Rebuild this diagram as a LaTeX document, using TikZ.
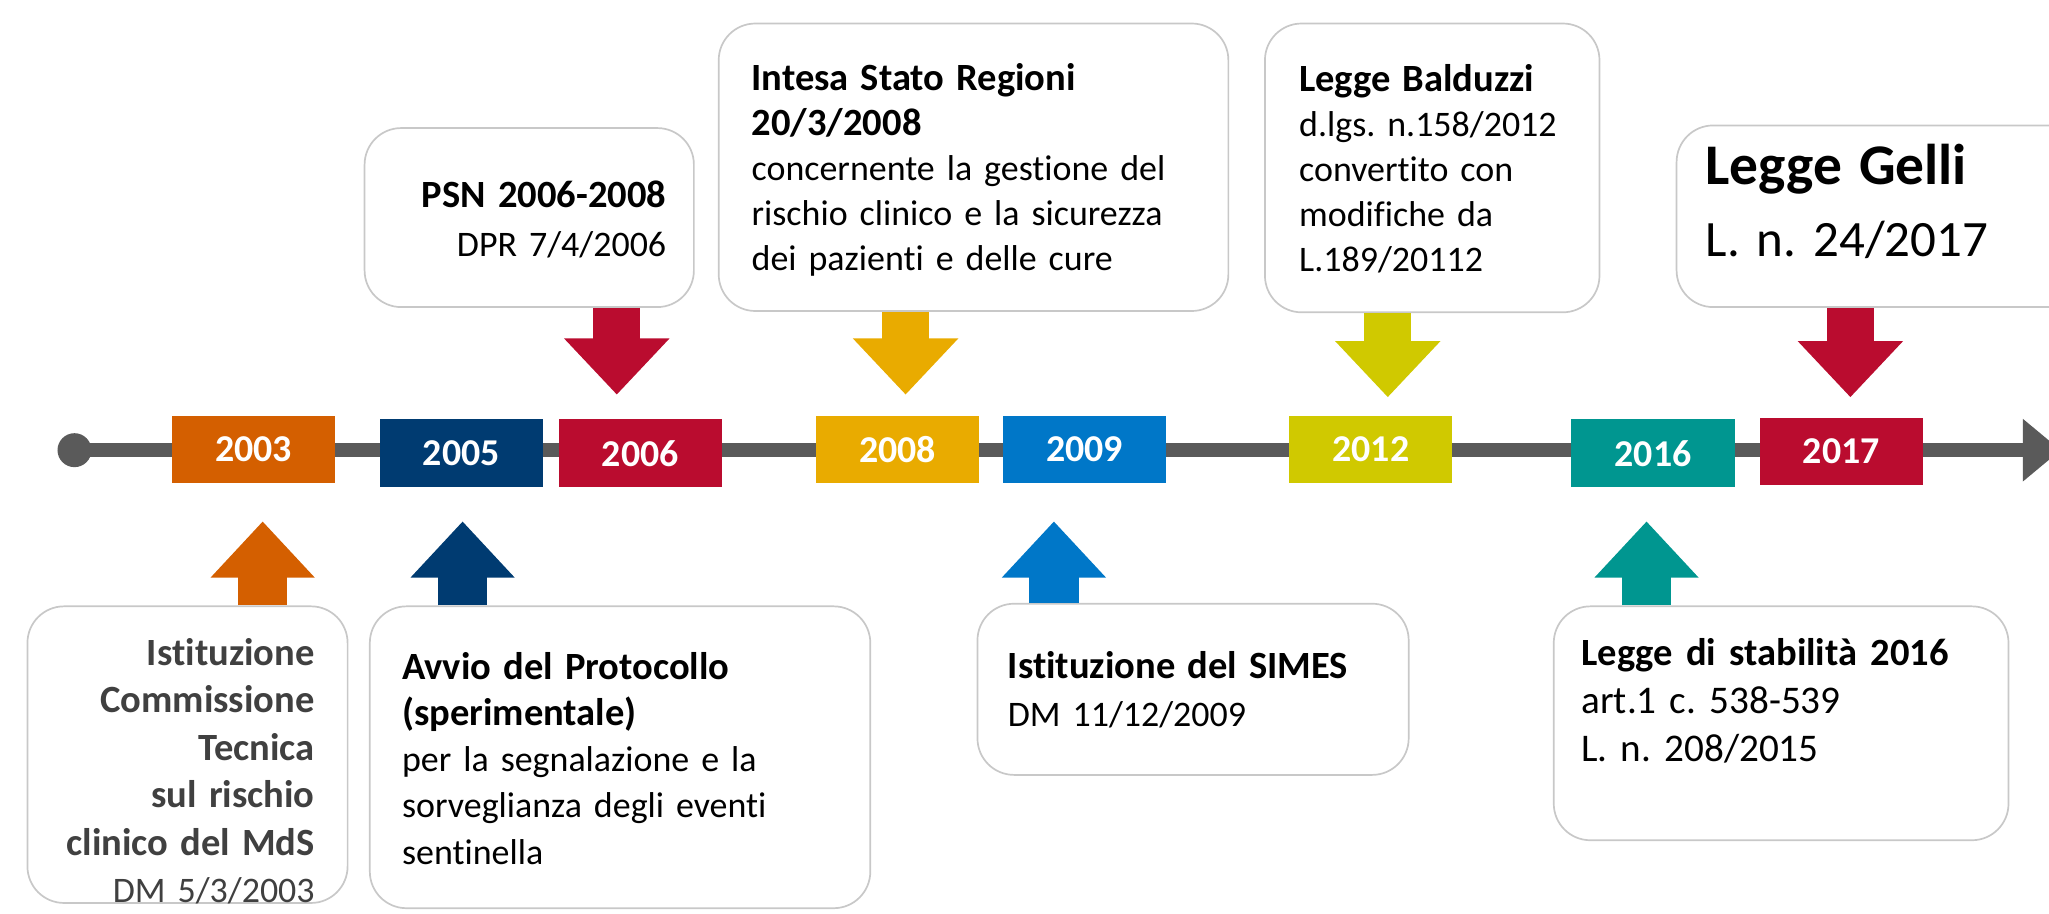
\documentclass[tikz,border=0pt]{standalone}
\usepackage{fontspec}
\setmainfont{Carlito}[Ligatures=NoCommon]
\usepackage{tikz}
\usetikzlibrary{positioning,arrows.meta}
\definecolor{lineGrey}{HTML}{5A5A5A}
\definecolor{frameGrey}{HTML}{C8C8C8}
\definecolor{textGrey}{HTML}{404040}
\definecolor{cOrange}{HTML}{D45F00}
\definecolor{cNavy}{HTML}{003B71}
\definecolor{cCrimson}{HTML}{BA0C2F}
\definecolor{cAmber}{HTML}{E9AB00}
\definecolor{cBlue}{HTML}{0077C8}
\definecolor{cOlive}{HTML}{D0C900}
\definecolor{cTeal}{HTML}{009690}
\tikzset{
  yearbox/.style = {rectangle, minimum width=125pt, minimum height=52pt,
                    inner sep=0pt, text=white,
                    font=\fontsize{29}{29}\selectfont\bfseries},
  frame/.style   = {rectangle, draw=frameGrey, line width=1.3pt, fill=white,
                    rounded corners=28pt, inner sep=0pt},
  note/.style    = {inner sep=0pt, text width=360pt, align=left},
  dot/.style     = {circle, fill=lineGrey, minimum size=26pt, inner sep=0pt},
  timeline/.style = {lineGrey, line width=10.5pt,
                    -{Triangle[length=29pt,width=46pt]}},
  uparrow/.style = {line width=38pt, -{Triangle[length=43pt,width=77pt]}},
  downarrow/.style = {line width=36pt, -{Triangle[length=43pt,width=78pt]}}
}
\newcommand{\hd}[1]{{\fontsize{29.5}{36}\selectfont\bfseries #1}}
\newcommand{\txt}[1]{\fontsize{27.5}{#1}\selectfont}
\frenchspacing

\begin{document}
\begin{tikzpicture}[x=1pt,y=1pt]
  \clip (0,0) rectangle (1568,699);
  % time axis
  \node[dot] (start) at (57,354.5) {};
  \coordinate (end) at (1577,354.5);
  \draw[timeline] (start.center) -- (end);

  \node[yearbox, fill=cOrange]  (y2003) at (194,355)   {2003};
  \node[yearbox, fill=cNavy]    (y2005) at (353,352)   {2005};
  \node[yearbox, fill=cCrimson] (y2006) at (490,352)   {2006};
  \node[yearbox, fill=cAmber]   (y2008) at (687,355)   {2008};
  \node[yearbox, fill=cBlue]    (y2009) at (830,355)   {2009};
  \node[yearbox, fill=cOlive]   (y2012) at (1049,355)  {2012};
  \node[yearbox, fill=cTeal]    (y2016) at (1265,352)  {2016};
  \node[yearbox, fill=cCrimson] (y2017) at (1409,353.5) {2017};

  % frames above
  \node[frame, minimum width=252pt, minimum height=137pt] (fPsn)    at (405,532.5)  {};
  \node[frame, minimum width=390pt, minimum height=220pt] (fIntesa) at (745,571)    {};
  \node[frame, minimum width=256pt, minimum height=221pt] (fBald)   at (1096,570.5) {};
  \node[frame, minimum width=317pt, minimum height=139pt] (fGelli)  at (1441.5,533.5) {};
  % frames below
  \node[frame, minimum width=245pt, minimum height=227pt] (fIst)    at (143.5,121.5) {};
  \node[frame, minimum width=383pt, minimum height=231pt] (fAvvio)  at (474.5,119.5) {};
  \node[frame, minimum width=330pt, minimum height=131pt] (fSimes)  at (913,171.5)   {};
  \node[frame, minimum width=348pt, minimum height=179pt] (fStab)   at (1363,145.5)  {};

  % arrow tips
  \coordinate (a2003) at (201,300);
  \coordinate (a2005) at (354,300);
  \coordinate (a2009) at (806.5,300);
  \coordinate (a2016) at (1260,300);
  \coordinate (a2006) at (472,397);
  \coordinate (a2008) at (693,397);
  \coordinate (a2012) at (1062,395);
  \coordinate (a2017) at (1416,395);

  \draw[uparrow, cOrange]    (fIst.north -| a2003)   -- (a2003);
  \draw[uparrow, cNavy]      (fAvvio.north -| a2005) -- (a2005);
  \draw[uparrow, cBlue]      (fSimes.north -| a2009) -- (a2009);
  \draw[uparrow, cTeal]      (fStab.north -| a2016)  -- (a2016);
  \draw[downarrow, cCrimson] (fPsn.south -| a2006)   -- (a2006);
  \draw[downarrow, cAmber]   (fIntesa.south -| a2008) -- (a2008);
  \draw[downarrow, cOlive]   (fBald.south -| a2012)  -- (a2012);
  \draw[downarrow, cCrimson] (fGelli.south -| a2017) -- (a2017);

  % texts
  \node[note, align=right, anchor=base east, font=\txt{37}] (tPsn) at (510,540)
    {\hd{PSN 2006-2008}\\DPR 7/4/2006};
  \node[note, anchor=base west, font=\txt{34.5}] (tIntesa) at (575,630)
    {\hd{Intesa Stato Regioni}\\\hd{20/3/2008}\\concernente la gestione del\\
     rischio clinico e la sicurezza\\dei pazienti e delle cure};
  \node[note, anchor=base west, font=\txt{34.5}] (tBald) at (994,629)
    {\hd{Legge Balduzzi}\\d.lgs. n.158/2012\\convertito con\\modifiche da\\L.189/20112};
  \node[note, anchor=base west, font=\fontsize{39}{55}\selectfont] (tGelli) at (1305,558)
    {{\fontsize{44}{55}\selectfont\bfseries Legge Gelli}\\L. n. 24/2017};
  \node[note, align=right, anchor=base east, text=textGrey, font=\txt{36.4}] (tIst) at (241,190)
    {\hd{Istituzione}\\\hd{Commissione}\\\hd{Tecnica}\\\hd{sul rischio}\\
     \hd{clinico del MdS}\\DM 5/3/2003};
  \node[note, anchor=base west, font=\txt{35.3}] (tAvvio) at (307.5,179)
    {\hd{Avvio del Protocollo}\\\hd{(sperimentale)}\\per la segnalazione e la\\
     sorveglianza degli eventi\\sentinella};
  \node[note, anchor=base west, font=\txt{37}] (tSimes) at (771,180)
    {\hd{Istituzione del SIMES}\\DM 11/12/2009};
  \node[note, anchor=base west, font=\fontsize{30}{37}\selectfont] (tStab) at (1210,190)
    {\hd{Legge di stabilità 2016}\\art.1 c. 538-539\\L. n. 208/2015};
\end{tikzpicture}
\end{document}
